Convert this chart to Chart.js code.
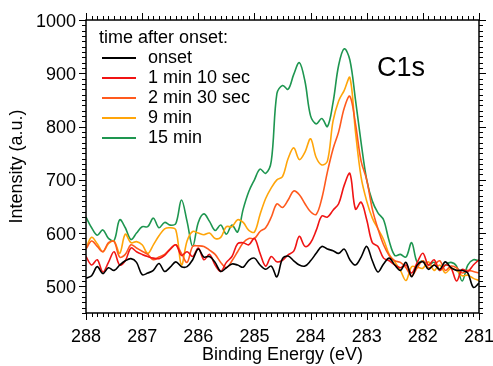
<!DOCTYPE html>
<html>
<head>
<meta charset="utf-8">
<script src="https://cdn.jsdelivr.net/npm/chart.js@4.4.1/dist/chart.umd.min.js"></script>
<style>
  body { margin: 0; background: #fff; }
  canvas { display: block; }
</style>
</head>
<body>
<canvas id="chart" width="493" height="366"></canvas>
<script>
// Binding energy axis (eV), 0.1 eV steps
const energy = [288.0, 287.9, 287.8, 287.7, 287.6, 287.5, 287.4, 287.3, 287.2, 287.1,
  287.0, 286.9, 286.8, 286.7, 286.6, 286.5, 286.4, 286.3, 286.2, 286.1,
  286.0, 285.9, 285.8, 285.7, 285.6, 285.5, 285.4, 285.3, 285.2, 285.1,
  285.0, 284.9, 284.8, 284.7, 284.6, 284.5, 284.4, 284.3, 284.2, 284.1,
  284.0, 283.9, 283.8, 283.7, 283.6, 283.5, 283.4, 283.3, 283.2, 283.1,
  283.0, 282.9, 282.8, 282.7, 282.6, 282.5, 282.4, 282.3, 282.2, 282.1,
  282.0, 281.9, 281.8, 281.7, 281.6, 281.5, 281.4, 281.3, 281.2, 281.1,
  281.0];

const onset = [515, 520, 537, 524, 535, 530, 540, 548, 552, 545,
  522, 525, 530, 543, 528, 536, 546, 537, 537, 550,
  570, 555, 556, 545, 528, 535, 542, 540, 536, 549,
  553, 540, 532, 538, 518, 552, 557, 548, 540, 538,
  548, 562, 575, 570, 567, 562, 570, 550, 540, 555,
  575, 548, 527, 542, 553, 540, 530, 545, 518, 540,
  546, 532, 540, 532, 546, 535, 530, 530, 525, 498,
  506];

const min1sec10 = [556, 540, 550, 527, 545, 565, 540, 548, 572, 565,
  560, 556, 553, 552, 558, 570, 578, 558, 565, 556,
  572, 550, 560, 540, 528, 545, 556, 580, 582, 578,
  590, 562, 538, 556, 546, 549, 559, 566, 594, 575,
  582, 605, 632, 630, 643, 655, 690, 712, 645, 658,
  625, 582, 575, 553, 548, 540, 535, 540, 525, 545,
  562, 540, 550, 530, 540, 535, 510, 532, 528, 540,
  550];

const min2sec30 = [570, 585, 575, 565, 582, 584, 555, 560, 578, 572,
  566, 560, 550, 555, 560, 570, 578, 562, 545, 575,
  576, 575, 568, 560, 545, 535, 548, 565, 582, 590,
  590, 603, 610, 630, 655, 648, 662, 679, 672, 655,
  640, 635, 665, 715, 758, 790, 835, 857, 805, 735,
  700, 645, 608, 578, 558, 548, 545, 535, 520, 535,
  548, 535, 540, 548, 530, 538, 535, 525, 530, 528,
  525];

const min9 = [572, 592, 580, 565, 580, 585, 562, 598, 582, 584,
  578, 562, 578, 595, 608, 610, 606, 540, 585, 603,
  600, 597, 600, 590, 592, 612, 612, 625, 620, 605,
  602, 635, 665, 685, 700, 706, 740, 760, 738, 752,
  777, 742, 728, 735, 810, 848, 868, 892, 790, 705,
  660, 628, 608, 588, 560, 546, 530, 511, 537, 536,
  534, 546, 530, 540, 525, 534, 530, 520, 521, 515,
  511];

const min15 = [630, 610, 596, 606, 590, 586, 625, 610, 588, 600,
  612, 612, 628, 610, 620, 615, 618, 662, 622, 575,
  620, 636, 622, 605, 615, 598, 615, 602, 645, 678,
  700, 720, 712, 735, 862, 877, 870, 898, 920, 885,
  820, 805, 815, 800, 845, 915, 946, 925, 850, 770,
  700, 660, 638, 625, 585, 558, 560, 555, 582, 545,
  548, 540, 545, 530, 540, 545, 538, 510, 540, 550,
  548];

const seriesNames = ['onset', '1 min 10 sec', '2 min 30 sec', '9 min', '15 min'];
const seriesColors = ['#000000', '#f01414', '#ff5a1e', '#ffa50a', '#1e9650'];
const seriesValues = [onset, min1sec10, min2sec30, min9, min15];

const xTicks = [288, 287, 286, 285, 284, 283, 282, 281];
const yTicks = [500, 600, 700, 800, 900, 1000];

const FONT = 'Liberation Sans, Arial, sans-serif';

// Рамка, деления, подписи делений, легенда и C1s
const decorPlugin = {
  id: 'decor',
  afterDraw(chart) {
    const { ctx, chartArea: a, scales: { x, y } } = chart;
    ctx.save();
    ctx.strokeStyle = '#000';
    ctx.lineWidth = 1.5;
    ctx.strokeRect(a.left, a.top, a.right - a.left, a.bottom - a.top);

    ctx.lineWidth = 1;
    ctx.beginPath();
    for (let i = 2810; i <= 2880; i++) {
      const px = Math.round(x.getPixelForValue(i / 10)) + 0.5;
      const len = i % 10 === 0 ? 7 : 4;
      ctx.moveTo(px, a.bottom); ctx.lineTo(px, a.bottom + len);
      ctx.moveTo(px, a.top); ctx.lineTo(px, a.top - len);
    }
    for (let v = 450; v <= 1000; v += 10) {
      const py = Math.round(y.getPixelForValue(v)) + 0.5;
      const len = v % 100 === 0 ? 7 : 4;
      ctx.moveTo(a.left, py); ctx.lineTo(a.left - len, py);
      ctx.moveTo(a.right, py); ctx.lineTo(a.right + len, py);
    }
    ctx.stroke();

    ctx.fillStyle = '#000';
    ctx.font = '18px ' + FONT;
    ctx.textBaseline = 'alphabetic';
    ctx.textAlign = 'center';
    xTicks.forEach(v => ctx.fillText(String(v), x.getPixelForValue(v), a.bottom + 29));
    ctx.textAlign = 'right';
    yTicks.forEach(v => ctx.fillText(String(v), a.left - 10, y.getPixelForValue(v) + 6.5));

    // легенда
    ctx.textAlign = 'left';
    ctx.textBaseline = 'middle';
    ctx.fillText('time after onset:', a.left + 13, a.top + 18);
    chart.data.datasets.forEach((ds, i) => {
      const yy = a.top + 38 + i * 20;
      ctx.strokeStyle = ds.borderColor;
      ctx.lineWidth = 2;
      ctx.beginPath();
      ctx.moveTo(a.left + 16, yy);
      ctx.lineTo(a.left + 50, yy);
      ctx.stroke();
      ctx.fillText(ds.label, a.left + 62, yy);
    });

    ctx.font = '27px ' + FONT;
    ctx.fillText('C1s', 377, 69);
    ctx.restore();
  }
};

new Chart(document.getElementById('chart'), {
  type: 'line',
  data: {
    datasets: seriesValues.map((vals, i) => ({
      label: seriesNames[i],
      data: energy.map((e, j) => ({ x: e, y: vals[j] })),
      borderColor: seriesColors[i],
      borderWidth: 1.6,
      pointRadius: 0,
      tension: 0.35,
      fill: false
    }))
  },
  options: {
    responsive: false,
    devicePixelRatio: 1,
    animation: false,
    layout: { padding: { top: 20, right: 14, left: 0, bottom: 0 } },
    plugins: { legend: { display: false }, tooltip: { enabled: false } },
    scales: {
      x: {
        type: 'linear',
        reverse: true,
        min: 281,
        max: 288,
        afterFit: s => { s.height = 53; },
        grid: { display: false, drawTicks: false },
        border: { display: false },
        ticks: { display: false },
        title: { display: true, text: 'Binding Energy (eV)', color: '#000', font: { size: 18, family: FONT }, padding: 0 }
      },
      y: {
        min: 450,
        max: 1000,
        afterFit: s => { s.width = 86; },
        grid: { display: false, drawTicks: false },
        border: { display: false },
        ticks: { display: false },
        title: { display: true, text: 'Intensity (a.u.)', color: '#000', font: { size: 18, family: FONT }, padding: { top: 6, bottom: 0 } }
      }
    }
  },
  plugins: [decorPlugin]
});
</script>
</body>
</html>
